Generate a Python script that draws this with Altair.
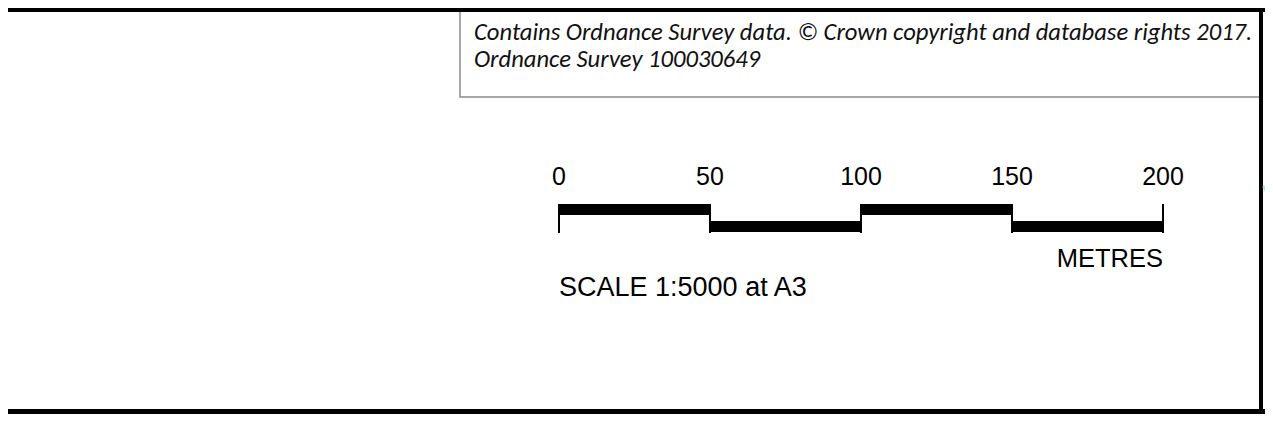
import altair as alt
import pandas as pd

# --- data ---------------------------------------------------------------
seg_start = [0, 50, 100, 150]
seg_end = [50, 100, 150, 200]
seg_level = ["upper", "lower", "upper", "lower"]
tick_values = [0, 50, 100, 150, 200]
tick_labels = ["0", "50", "100", "150", "200"]
unit_label = ["METRES"]
scale_note = ["SCALE 1:5000 at A3"]
credit_lines = [
    "Contains Ordnance Survey data. \u00a9 Crown copyright and database rights 2017.",
    "Ordnance Survey 100030649",
]

W, H = 1257, 411
FONT = "Liberation Sans"
CREDIT_FONT = "Carlito, Open Sans"

xs = alt.Scale(domain=[0, 200], range=[551, 1155])
one = pd.DataFrame({"d": [0]})

segs = pd.DataFrame({"start": seg_start, "end": seg_end, "level": seg_level})
ticks = pd.DataFrame({"value": tick_values, "label": tick_labels})
units = pd.DataFrame({"value": [200], "label": unit_label})
notes = pd.DataFrame({"value": [0], "label": scale_note})
credits = pd.DataFrame({"row": list(range(len(credit_lines))), "line": credit_lines})

# --- frame decorations ---------------------------------------------------
box = alt.Chart(one).mark_rect(fill="white", stroke="#8a8a8a", strokeWidth=1.5).encode(
    x=alt.value(452), x2=alt.value(1252), y=alt.value(-2), y2=alt.value(89)
)
top_border = alt.Chart(one).mark_rule(color="black", strokeWidth=4).encode(
    x=alt.value(0), x2=alt.value(W), y=alt.value(2)
)
right_border = alt.Chart(one).mark_rule(color="black", strokeWidth=4).encode(
    x=alt.value(1253), y=alt.value(0), y2=alt.value(406)
)
bottom_border = alt.Chart(one).mark_rule(color="black", strokeWidth=5).encode(
    x=alt.value(0), x2=alt.value(W), y=alt.value(403.5)
)
cyan = alt.Chart(one).mark_rule(color="#9fe6f5", strokeWidth=4).encode(
    x=alt.value(1256), y=alt.value(178), x2=alt.value(1266), y2=alt.value(195)
)

credit_text = alt.Chart(credits).mark_text(
    align="left", baseline="middle", font=CREDIT_FONT, fontStyle="italic",
    fontSize=24.6, color="#111111"
).encode(
    x=alt.value(466),
    y=alt.Y("row:O", scale=alt.Scale(type="point", range=[25, 52], padding=0), axis=None),
    text="line:N",
)

# --- scale bar -----------------------------------------------------------
bars = alt.Chart(segs).mark_rule(color="black", strokeWidth=11, strokeCap="butt").encode(
    x=alt.X("start:Q", scale=xs, axis=None),
    x2="end:Q",
    y=alt.Y("level:N", scale=alt.Scale(type="point", domain=["upper", "lower"],
                                        range=[201.5, 218.5], padding=0), axis=None),
)
tick_rules = alt.Chart(ticks).mark_rule(color="black", strokeWidth=2).encode(
    x=alt.X("value:Q", scale=xs, axis=None), y=alt.value(196), y2=alt.value(225)
)
tick_text = alt.Chart(ticks).mark_text(
    align="center", baseline="middle", font=FONT, fontSize=25, color="black"
).encode(x=alt.X("value:Q", scale=xs, axis=None), y=alt.value(169), text="label:N")
unit_text = alt.Chart(units).mark_text(
    align="right", baseline="middle", font=FONT, fontSize=25.5, color="black"
).encode(x=alt.X("value:Q", scale=xs, axis=None), y=alt.value(250.5), text="label:N")
note_text = alt.Chart(notes).mark_text(
    align="left", baseline="middle", font=FONT, fontSize=27, color="black"
).encode(x=alt.X("value:Q", scale=xs, axis=None), y=alt.value(279.5), text="label:N")

chart = alt.layer(
    box, credit_text, top_border, right_border, bottom_border, cyan,
    bars, tick_rules, tick_text, unit_text, note_text,
).resolve_scale(y="independent").properties(
    width=W, height=H, padding=0, autosize=alt.AutoSizeParams(type="none"),
    background="white",
).configure_view(stroke=None)

chart.save("out.html", embed_options={"renderer": "svg", "actions": False})
